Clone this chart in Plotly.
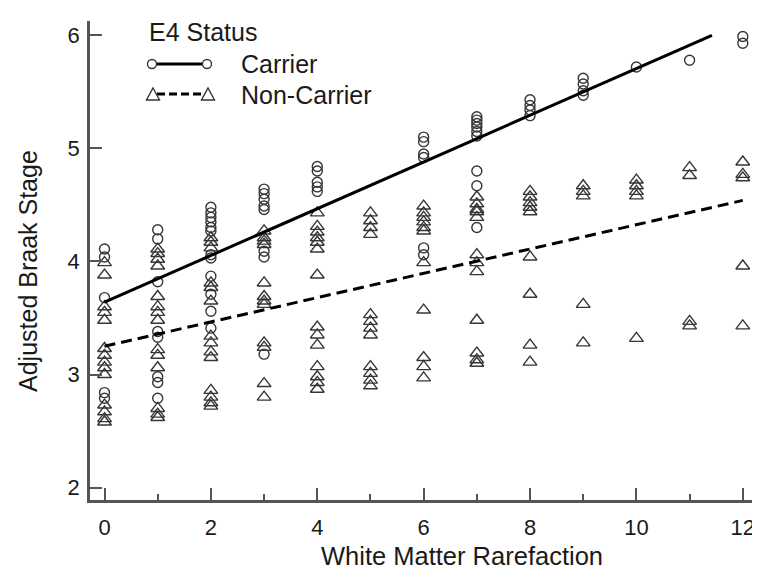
import plotly.graph_objects as go

# ---------------- data ----------------
carrier_x = [0]*5 + [1]*8 + [2]*12 + [3]*8 + [4]*5 + [6]*6 + [7]*9 + [8]*4 + [9]*4 + [10] + [11] + [12]*2
carrier_y = [4.11, 4.04, 3.68, 2.84, 2.79,
             4.28, 4.20, 3.82, 3.38, 3.33, 2.98, 2.93, 2.79,
             4.48, 4.43, 4.39, 4.35, 4.30, 4.27, 4.06, 4.03, 3.87, 3.71, 3.56, 3.41,
             4.64, 4.60, 4.55, 4.49, 4.46, 4.09, 4.04, 3.18,
             4.84, 4.80, 4.70, 4.66, 4.62,
             5.10, 5.06, 4.95, 4.92, 4.12, 4.06,
             5.28, 5.25, 5.22, 5.19, 5.15, 5.11, 4.80, 4.67, 4.30,
             5.43, 5.38, 5.34, 5.29,
             5.62, 5.57, 5.51, 5.47,
             5.72,
             5.78,
             5.99, 5.93]

noncarrier_x = ([0]*14 + [1]*14 + [2]*14 + [3]*12 + [4]*14 + [5]*12 + [6]*11 + [7]*12
                + [8]*9 + [9]*5 + [10]*5 + [11]*4 + [12]*5)
noncarrier_y = [3.99, 3.88, 3.60, 3.55, 3.48, 3.23, 3.17, 3.11, 3.06, 3.00, 2.73, 2.67, 2.61, 2.58,
                4.11, 4.07, 4.02, 3.96, 3.69, 3.60, 3.55, 3.48, 3.22, 3.17, 3.06, 2.70, 2.65, 2.62,
                4.21, 4.17, 4.12, 3.81, 3.77, 3.65, 3.34, 3.28, 3.20, 3.15, 2.86, 2.80, 2.75, 2.72,
                4.27, 4.21, 4.18, 4.15, 3.81, 3.69, 3.65, 3.62, 3.28, 3.24, 2.92, 2.80,
                4.43, 4.31, 4.26, 4.21, 4.17, 4.11, 3.88, 3.42, 3.35, 3.26, 3.07, 2.98, 2.93, 2.87,
                4.43, 4.36, 4.30, 4.24, 3.53, 3.47, 3.41, 3.35, 3.07, 3.01, 2.95, 2.90,
                4.49, 4.43, 4.39, 4.35, 4.30, 4.27, 3.99, 3.57, 3.15, 3.07, 2.97,
                4.57, 4.51, 4.46, 4.44, 4.39, 4.06, 3.99, 3.91, 3.48, 3.19, 3.13, 3.10,
                4.62, 4.57, 4.52, 4.48, 4.44, 4.04, 3.71, 3.26, 3.11,
                4.67, 4.62, 4.58, 3.62, 3.28,
                4.72, 4.67, 4.62, 4.58, 3.32,
                4.83, 4.76, 3.47, 3.43,
                4.88, 4.77, 4.74, 3.96, 3.43]

# fitted regression lines (end points)
fit_carrier_x = [0, 11.42]
fit_carrier_y = [3.64, 6.00]
fit_noncarrier_x = [0, 12.0]
fit_noncarrier_y = [3.25, 4.54]

x_ticks = [0, 2, 4, 6, 8, 10, 12]
y_ticks = [2, 3, 4, 5, 6]

# ---------------- figure ----------------
W, H = 760, 571
L, R, T, B = 82, 5, 13, 79
FONT = "Liberation Sans, Arial, sans-serif"
MK = "#363636"
AX = "#555555"
TXT = "#1a1a1a"


def pxx(x):
    return (x - L) / (W - L - R)


def pyy(y):
    return (H - B - y) / (H - T - B)


fig = go.Figure()
fig.add_trace(go.Scatter(x=noncarrier_x, y=noncarrier_y, mode="markers",
                         marker=dict(symbol="triangle-up-open", size=12, color=MK,
                                     line=dict(width=1.4, color=MK)),
                         showlegend=False))
fig.add_trace(go.Scatter(x=carrier_x, y=carrier_y, mode="markers",
                         marker=dict(symbol="circle-open", size=10, color=MK,
                                     line=dict(width=1.4, color=MK)),
                         showlegend=False))
fig.add_trace(go.Scatter(x=fit_carrier_x, y=fit_carrier_y, mode="lines",
                         line=dict(color="black", width=3), showlegend=False))
fig.add_trace(go.Scatter(x=fit_noncarrier_x, y=fit_noncarrier_y, mode="lines",
                         line=dict(color="black", width=3, dash="11px,6px"), showlegend=False))

# ---- manual legend ----
shapes = []
ann = []
ann.append(dict(text="E4 Status", x=pxx(139), y=pyy(24), xref="paper", yref="paper",
                xanchor="left", yanchor="middle", showarrow=False,
                font=dict(size=25, family=FONT, color=TXT)))
# carrier row
cy = 56
shapes.append(dict(type="line", xref="paper", yref="paper", x0=pxx(148.5), x1=pxx(194.5),
                   y0=pyy(cy), y1=pyy(cy), line=dict(color="black", width=3)))
for cx in (144, 199):
    shapes.append(dict(type="circle", xref="paper", yref="paper",
                       x0=pxx(cx - 4.5), x1=pxx(cx + 4.5), y0=pyy(cy - 4.5), y1=pyy(cy + 4.5),
                       line=dict(color=MK, width=1.4)))
ann.append(dict(text="Carrier", x=pxx(231), y=pyy(cy), xref="paper", yref="paper",
                xanchor="left", yanchor="middle", showarrow=False,
                font=dict(size=25, family=FONT, color=TXT)))
# non-carrier row
ny = 87
shapes.append(dict(type="line", xref="paper", yref="paper", x0=pxx(149), x1=pxx(195),
                   y0=pyy(ny - 1), y1=pyy(ny - 1), line=dict(color="black", width=3, dash="8px,4px")))
for tx in (145, 200):
    path = "M {:.5f},{:.5f} L {:.5f},{:.5f} L {:.5f},{:.5f} Z".format(
        pxx(tx - 6.5), pyy(ny + 5), pxx(tx + 6.5), pyy(ny + 5), pxx(tx), pyy(ny - 7))
    shapes.append(dict(type="path", xref="paper", yref="paper", path=path,
                       line=dict(color=MK, width=1.4)))
ann.append(dict(text="Non-Carrier", x=pxx(231), y=pyy(ny), xref="paper", yref="paper",
                xanchor="left", yanchor="middle", showarrow=False,
                font=dict(size=25, family=FONT, color=TXT)))

# axis titles
ann.append(dict(text="White Matter Rarefaction", x=pxx(454), y=pyy(548), xref="paper", yref="paper",
                xanchor="center", yanchor="middle", showarrow=False,
                font=dict(size=25.5, family=FONT, color=TXT)))
ann.append(dict(text="Adjusted Braak Stage", x=pxx(20), y=pyy(263), xref="paper", yref="paper",
                xanchor="center", yanchor="middle", showarrow=False, textangle=-90,
                font=dict(size=25, family=FONT, color=TXT)))

fig.update_layout(
    width=W, height=H,
    margin=dict(l=L, r=R, t=T, b=B),
    paper_bgcolor="white", plot_bgcolor="white",
    shapes=shapes, annotations=ann,
    showlegend=False,
    font=dict(family=FONT, color=TXT),
)
fig.update_xaxes(range=[-0.273, 12.38], tickvals=x_ticks, ticktext=[str(v) for v in x_ticks],
                 ticks="inside", ticklen=12, tickwidth=2, tickcolor=AX,
                 minor=dict(ticks="inside", ticklen=6, tickwidth=1.5, tickcolor=AX, dtick=1, tick0=0,
                            showgrid=False),
                 showline=True, linecolor=AX, linewidth=2.5, showgrid=False, zeroline=False,
                 tickfont=dict(size=22, family=FONT, color=TXT), ticklabelstandoff=6)
fig.update_yaxes(range=[1.89, 6.127], tickvals=y_ticks, ticktext=[str(v) for v in y_ticks],
                 ticks="inside", ticklen=12, tickwidth=2, tickcolor=AX,
                 showline=True, linecolor=AX, linewidth=2.5, showgrid=False, zeroline=False,
                 tickfont=dict(size=22, family=FONT, color=TXT), ticklabelstandoff=3)

fig.write_html("out.html")
